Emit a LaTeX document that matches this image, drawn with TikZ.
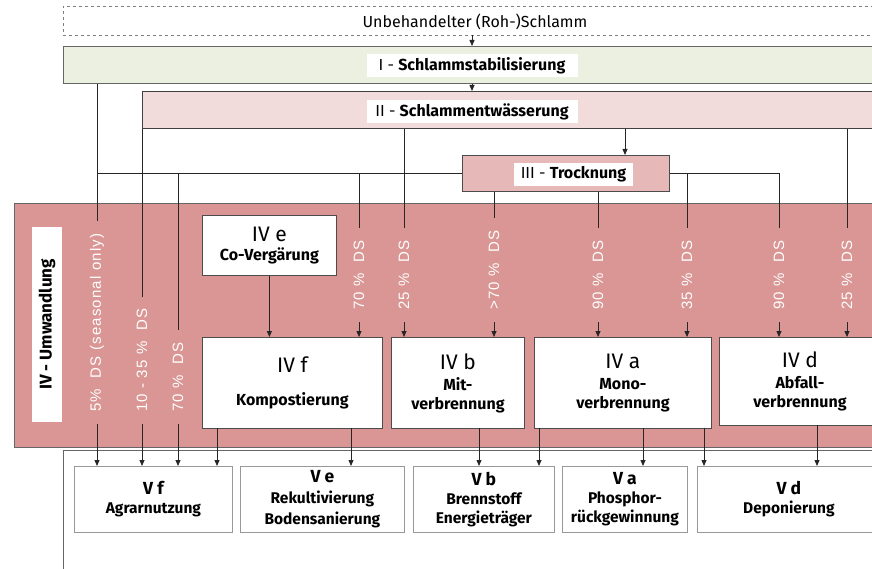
\documentclass[tikz,border=0pt]{standalone}
\usepackage{fontspec}
\setmainfont{Fira Sans}
\newfontfamily\dsfont[LetterSpace=8]{Liberation Sans}
\usetikzlibrary{arrows.meta}

\definecolor{stabgreen}{RGB}{235,240,224}
\definecolor{waterpink}{RGB}{242,220,219}
\definecolor{drypink}{RGB}{230,184,183}
\definecolor{convred}{RGB}{217,150,148}

\newcommand{\ivhead}[1]{{\fontsize{21}{24}\selectfont\mdseries #1}}
\newcommand{\vhead}[1]{{\fontsize{17.5}{19}\selectfont #1}}

\tikzset{
  stage/.style={draw=black!60, line width=0.8pt, inner sep=0pt, anchor=north west},
  tag/.style={fill=white, inner sep=0pt, font=\fontsize{16}{18}\selectfont},
  procbox/.style={draw=black!70, fill=white, line width=0.8pt, anchor=north west,
    align=center, inner sep=0pt, font=\fontsize{16}{19}\selectfont\bfseries},
  usebox/.style={draw=black!40, fill=white, line width=0.8pt, anchor=north west,
    align=center, inner sep=0pt, font=\fontsize{15.5}{19}\selectfont\bfseries},
  dslbl/.style={rotate=90, anchor=west, text=white, inner xsep=12pt, inner ysep=0pt,
    font=\dsfont\fontsize{15}{15}\selectfont},
  conn/.style={draw=black!85, line width=0.8pt},
  arr/.style={conn, -{Triangle[length=6pt,width=5pt]}},
}

\begin{document}
\begin{tikzpicture}[x=1pt,y=-1pt]
\useasboundingbox (0,0) rectangle (872,569);

\node[stage, draw=black!50, dashed, line width=0.5pt, minimum width=817pt, minimum height=29pt] (raw) at (63,6) {};
\node[font=\fontsize{16}{18}\selectfont, inner sep=0pt] (rawtxt) at (475,22) {Unbehandelter (Roh-)Schlamm};

\node[stage, fill=stabgreen, minimum width=817pt, minimum height=37pt] (I) at (63,46) {};
\node[tag, minimum width=211pt, minimum height=23pt] (Ilbl) at (472,65.5) {I - \textbf{Schlammstabilisierung}};

\node[stage, fill=waterpink, draw=black!75, minimum width=738pt, minimum height=37pt] (II) at (142,91) {};
\node[tag, minimum width=211pt, minimum height=23pt] (IIlbl) at (472,111.5) {II - \textbf{Schlammentwässerung}};

\node[stage, fill=drypink, draw=black!70, minimum width=207pt, minimum height=36pt] (III) at (462,155) {};
\node[tag, minimum width=119pt, minimum height=23pt] (IIIlbl) at (573.5,174.5) {III - \textbf{Trocknung}};

\node[stage, fill=convred, minimum width=866pt, minimum height=244pt] (IV) at (14,203) {};
\node[tag, rotate=90, minimum width=195pt, minimum height=30pt, font=\fontsize{17}{19}\selectfont\bfseries] (IVlbl) at (47,324.5) {IV - Umwandlung};

\node[procbox, minimum width=134pt, minimum height=60pt] (IVe) at (202,215) {\ivhead{IV e}\\Co-Vergärung};
\node[procbox, minimum width=180pt, minimum height=91pt] (IVf) at (202,337) {\ivhead{IV f}\\[14pt]Kompostierung};
\node[procbox, minimum width=133pt, minimum height=91pt] (IVb) at (391,337) {\ivhead{IV b}\\[2pt]Mit-\\verbrennung};
\node[procbox, minimum width=177pt, minimum height=91pt] (IVa) at (534,337) {\ivhead{IV a}\\[2pt]Mono-\\verbrennung};
\node[procbox, minimum width=161pt, minimum height=88pt] (IVd) at (719,337) {\ivhead{IV d}\\[2pt]Abfall-\\verbrennung};

\draw[draw=black!60, line width=0.8pt] (63,575) |- (880,450);

\node[usebox, minimum width=158pt, minimum height=66pt] (Vf) at (74,466) {\vhead{V f}\\Agrarnutzung};
\node[usebox, minimum width=164pt, minimum height=66pt, font=\fontsize{15.5}{21}\selectfont\bfseries] (Ve) at (240,466) {\vhead{V e}\\Rekultivierung\\Bodensanierung};
\node[usebox, minimum width=141pt, minimum height=66pt] (Vb) at (413,466) {\vhead{V b}\\Brennstoff\\Energieträger};
\node[usebox, minimum width=125pt, minimum height=66pt] (Va) at (562,466) {\vhead{V a}\\Phosphor-\\rückgewinnung};
\node[usebox, minimum width=183pt, minimum height=66pt] (Vd) at (697,466) {\vhead{V d}\\Deponierung};

\node[dslbl] (dsA) at (97,424) {5\%\ \ DS (seasonal only)};
\node[dslbl] (dsB) at (142,424) {10 - 35 \%\ \ DS};
\node[dslbl] (dsC) at (178,424) {70 \%\ \ DS};
\node[dslbl] (dsD) at (359,322) {70 \%\ \ DS};
\node[dslbl] (dsE) at (404,322) {25 \%\ \ DS};
\node[dslbl] (dsF) at (494,322) {>70 \%\ \ DS};
\node[dslbl] (dsG) at (598,322) {90 \%\ \ DS};
\node[dslbl] (dsH) at (687,322) {35 \%\ \ DS};
\node[dslbl] (dsI) at (779,322) {90 \%\ \ DS};
\node[dslbl] (dsJ) at (847,322) {25 \%\ \ DS};

\coordinate (t3) at (625,155);
\coordinate (kf) at (217,428);
\coordinate (ke) at (351,428);
\coordinate (mb) at (479,428);
\coordinate (ab) at (539,428);
\coordinate (aa) at (643,428);
\coordinate (ad) at (704,428);
\coordinate (dd) at (817,425);

\draw[arr] (raw.south -| Ilbl) -- (I.north -| Ilbl);
\draw[arr] (I.south -| IIlbl) -- (II.north -| IIlbl);
\draw[arr] (II.south -| t3) -- (t3);

\draw[conn] (I.south -| dsA) -- (dsA.east);
\draw[conn] (III.west) -- (III.west -| dsA);
\draw[conn] (II.south -| dsB) -- (dsB.east);
\draw[conn] (III.west -| dsC) -- (dsC.east);
\draw[conn] (III.west -| dsD) -- (dsD.east);
\draw[conn] (II.south -| dsE) -- (dsE.east);
\draw[conn] (III.south -| dsF) -- (dsF.east);
\draw[conn] (III.south -| dsG) -- (dsG.east);
\draw[conn] (III.east) -- (III.east -| dsI);
\draw[conn] (III.east -| dsH) -- (dsH.east);
\draw[conn] (III.east -| dsI) -- (dsI.east);
\draw[conn] (II.south -| dsJ) -- (dsJ.east);

\draw[arr] (IVe.south) -- (IVe.south |- IVf.north);
\draw[arr] (dsD.west) -- (IVf.north -| dsD);
\draw[arr] (dsE.west) -- (IVb.north -| dsE);
\draw[arr] (dsF.west) -- (IVb.north -| dsF);
\draw[arr] (dsG.west) -- (IVa.north -| dsG);
\draw[arr] (dsH.west) -- (IVa.north -| dsH);
\draw[arr] (dsI.west) -- (IVd.north -| dsI);
\draw[arr] (dsJ.west) -- (IVd.north -| dsJ);

\draw[arr] (dsA.west) -- (Vf.north -| dsA);
\draw[arr] (dsB.west) -- (Vf.north -| dsB);
\draw[arr] (dsC.west) -- (Vf.north -| dsC);
\draw[arr] (kf) -- (Vf.north -| kf);
\draw[arr] (ke) -- (Ve.north -| ke);
\draw[arr] (mb) -- (Vb.north -| mb);
\draw[arr] (ab) -- (Vb.north -| ab);
\draw[arr] (aa) -- (Va.north -| aa);
\draw[arr] (ad) -- (Vd.north -| ad);
\draw[arr] (dd) -- (Vd.north -| dd);
\end{tikzpicture}
\end{document}
